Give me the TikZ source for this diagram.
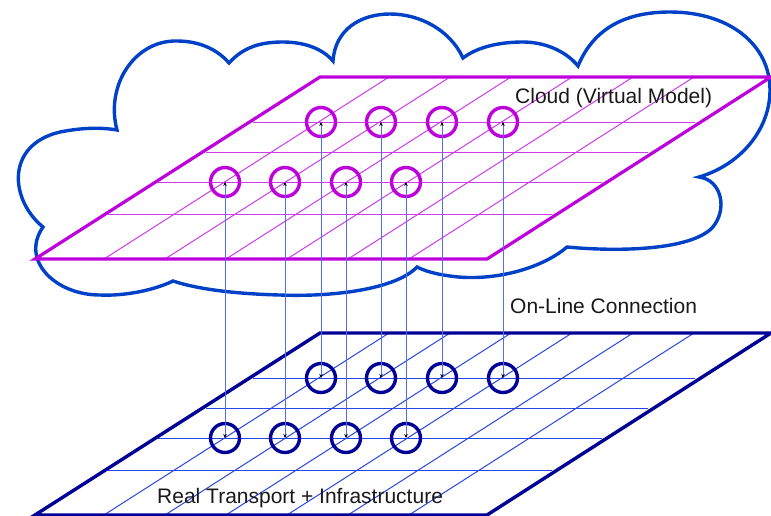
\documentclass[tikz,border=0pt]{standalone}
\usepackage{fontspec}
\setmainfont{Liberation Sans}
\usetikzlibrary{arrows.meta}
\definecolor{cloudblue}{RGB}{0,65,200}
\definecolor{vmag}{RGB}{190,0,220}
\definecolor{vmaglight}{RGB}{205,60,235}
\definecolor{rnavy}{RGB}{0,0,150}
\definecolor{rblue}{RGB}{40,70,230}
\definecolor{connblue}{RGB}{80,110,240}
\definecolor{txt}{RGB}{25,25,25}
\begin{document}
\begin{tikzpicture}[x=1pt,y=-1pt,
  cloudline/.style={draw=cloudblue,line width=3.4pt,line join=miter},
  vframe/.style={draw=vmag,line width=3.2pt},
  vgrid/.style={draw=vmaglight,line width=1pt},
  rframe/.style={draw=rnavy,line width=3.4pt},
  rgrid/.style={draw=rblue,line width=1pt},
  vnode/.style={circle,draw=vmag,line width=3.4pt,minimum size=29pt,inner sep=0pt},
  rnode/.style={circle,draw=rnavy,line width=3.4pt,minimum size=29pt,inner sep=0pt},
  conn/.style={draw=connblue,line width=0.8pt,{Stealth[length=4pt,width=3.5pt,color=black]}-{Stealth[length=4pt,width=3.5pt,color=black]}},
  lbl/.style={text=txt,font=\fontsize{21}{25}\selectfont,inner sep=0pt,anchor=base west}
]
\useasboundingbox (0,0) rectangle (771,515);
% cloud
\draw[cloudline]
  (117,130) .. controls (105,85) and (135,40) .. (177,41)
            .. controls (200,41) and (218,50) .. (229,63)
            .. controls (245,45) and (265,42) .. (283,42)
            .. controls (303,42) and (322,48) .. (333,61)
            .. controls (335,30) and (360,14) .. (390,14)
            .. controls (420,14) and (450,30) .. (463,58)
            .. controls (480,45) and (505,42) .. (523,42)
            .. controls (543,42) and (565,50) .. (578,66)
            .. controls (595,25) and (630,12) .. (670,12)
            .. controls (730,12) and (770,45) .. (770,90)
            .. controls (770,130) and (740,165) .. (699,177)
            .. controls (722,180) and (728,210) .. (712,228)
            .. controls (690,250) and (620,252) .. (567,247)
            .. controls (540,270) and (490,282) .. (450,276)
            .. controls (435,274) and (425,271) .. (417,267)
            .. controls (395,290) and (330,297) .. (280,295)
            .. controls (240,294) and (200,290) .. (173,281)
            .. controls (150,292) and (120,296) .. (100,295)
            .. controls (55,295) and (20,260) .. (43,227)
            .. controls (10,200) and (5,145) .. (60,132)
            .. controls (80,128) and (100,127) .. (117,130)
  -- cycle;
% virtual plane
\draw[vgrid] \foreach \x in {104,165,226,287,348,409} {(\x,259) -- (\x+285,77)};
\draw[vgrid] (253,122)--(695,122) (206,152)--(648,152) (158,182)--(602,182) (108,214)--(552,214);
\draw[vframe] (35,259)--(487,259)--(771,77)--(320,77)--cycle;
% real plane
\draw[rgrid] \foreach \x in {104,165,226,287,348,409} {(\x,515) -- (\x+285,333)};
\draw[rgrid] (253,378)--(695,378) (206,408)--(648,408) (158,438)--(602,438) (108,470)--(552,470);
\draw[rframe] (35,515)--(487,515)--(771,333)--(320,333)--cycle;
% circles
\foreach \i/\x in {1/321,2/381,3/442,4/503} {
  \node[vnode] (t\i) at (\x,122) {};
  \node[rnode] (b\i) at (\x,378) {};
}
\foreach \i/\x in {5/225,6/285,7/346,8/406} {
  \node[vnode] (t\i) at (\x,182) {};
  \node[rnode] (b\i) at (\x,438) {};
}
% on-line connections
\foreach \i in {1,...,8} {
  \draw[conn] (b\i.center) -- (t\i.center);
}
% labels
\node[lbl] (cloudlbl) at (515,103) {Cloud (Virtual Model)};
\node[lbl] (onlbl) at (510,313) {On-Line Connection};
\node[lbl] (reallbl) at (157,503) {Real Transport + Infrastructure};
\end{tikzpicture}
\end{document}
